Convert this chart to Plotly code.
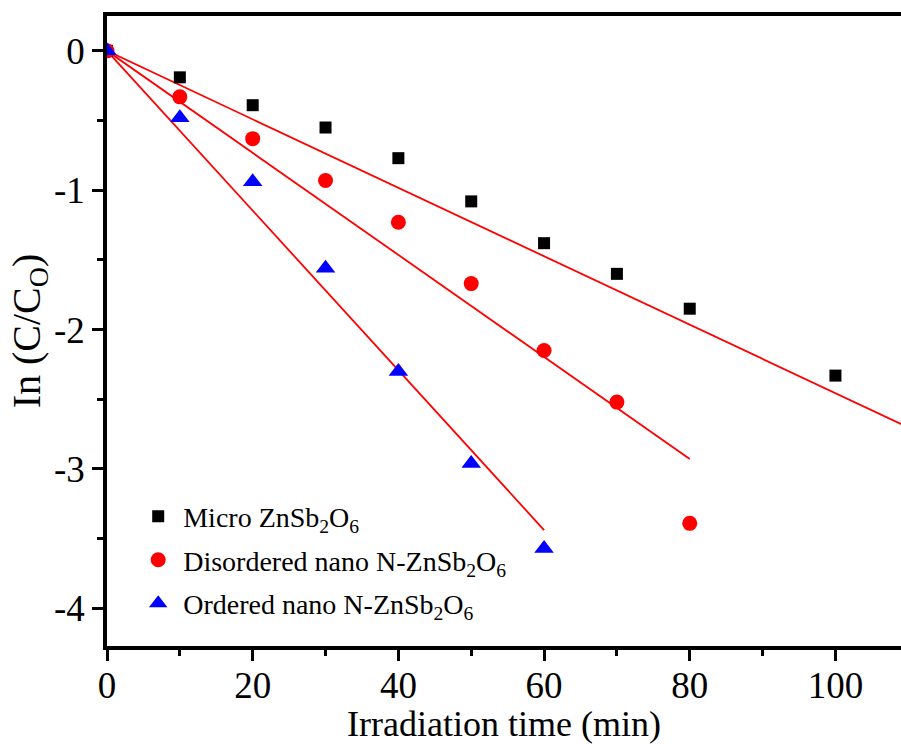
import numpy as np
import plotly.graph_objects as go

# ---- data ----
time_micro = [0, 10, 20, 30, 40, 50, 60, 70, 80, 100]
lnc_micro = [0, -0.19, -0.39, -0.55, -0.77, -1.08, -1.38, -1.60, -1.85, -2.33]

time_dis = [0, 10, 20, 30, 40, 50, 60, 70, 80]
lnc_dis = [0, -0.33, -0.63, -0.93, -1.23, -1.67, -2.15, -2.52, -3.39]

time_ord = [0, 10, 20, 30, 40, 50, 60]
lnc_ord = [0, -0.48, -0.94, -1.56, -2.30, -2.96, -3.57]

# linear fits (through origin), slope and end time
fit_slopes = [-0.02456, -0.0366, -0.0573]
fit_end = [110, 80, 60]

x_tickvals = [0, 20, 40, 60, 80, 100]
x_ticktext = ["0", "20", "40", "60", "80", "100"]
y_tickvals = [0, -1, -2, -3, -4]
y_ticktext = ["0", "-1", "-2", "-3", "-4"]

names = ["Micro ZnSb<sub>2</sub>O<sub>6</sub>",
         "Disordered nano N-ZnSb<sub>2</sub>O<sub>6</sub>",
         "Ordered nano N-ZnSb<sub>2</sub>O<sub>6</sub>"]

FONT = "Liberation Serif"

fig = go.Figure()

# fit lines
for s, e in zip(fit_slopes, fit_end):
    xs = np.array([0, e], dtype=float)
    fig.add_trace(go.Scatter(x=xs, y=s * xs, mode="lines",
                             line=dict(color="#ff0000", width=1.8),
                             showlegend=False, hoverinfo="skip"))

series = [
    (time_micro, lnc_micro, names[0], "square", "#000000", 12),
    (time_dis, lnc_dis, names[1], "circle", "#ff0000", 15),
    (time_ord, lnc_ord, names[2], "triangle-up", "#0000ff", 17),
]
for i, (x, y, nm, sym, col, sz) in enumerate(series):
    fig.add_trace(go.Scatter(x=x, y=y, mode="markers", name=nm,
                             legendgroup=f"g{i}",
                             marker=dict(symbol=sym, color=col, size=sz,
                                         line=dict(width=0))))

axis_common = dict(
    showgrid=False, zeroline=False, showline=True, linecolor="black",
    linewidth=3.5, ticks="outside", tickcolor="black", tickwidth=3,
    ticklen=11, tickfont=dict(family=FONT, size=37, color="black"),
    tickmode="array",
)

fig.update_xaxes(
    **axis_common, range=[0, 109], tickvals=x_tickvals, ticktext=x_ticktext,
    mirror=True, ticklabelstandoff=-7,
    minor=dict(tickmode="linear", tick0=0, dtick=10, ticks="outside",
               ticklen=6, tickwidth=3, tickcolor="black"),
    title=dict(text="Irradiation time (min)",
               font=dict(family=FONT, size=36, color="black"), standoff=2),
)
fig.update_yaxes(
    **axis_common, range=[-4.27, 0.25], tickvals=y_tickvals,
    ticktext=y_ticktext,
    minor=dict(tickmode="linear", tick0=0, dtick=0.5, ticks="outside",
               ticklen=6, tickwidth=3, tickcolor="black"),
    title=dict(text="In (C/C<sub>O</sub>)",
               font=dict(family=FONT, size=40, color="black"), standoff=0),
)

fig.update_layout(
    width=901, height=744,
    margin=dict(l=107, r=0, t=16, b=98),
    plot_bgcolor="white", paper_bgcolor="white",
    legend=dict(x=0.033, y=0.245, xanchor="left", yanchor="top",
                font=dict(family=FONT, size=28, color="black"),
                bgcolor="rgba(0,0,0,0)", tracegroupgap=4, itemwidth=40),
    showlegend=True,
)

fig.write_html("out.html")
